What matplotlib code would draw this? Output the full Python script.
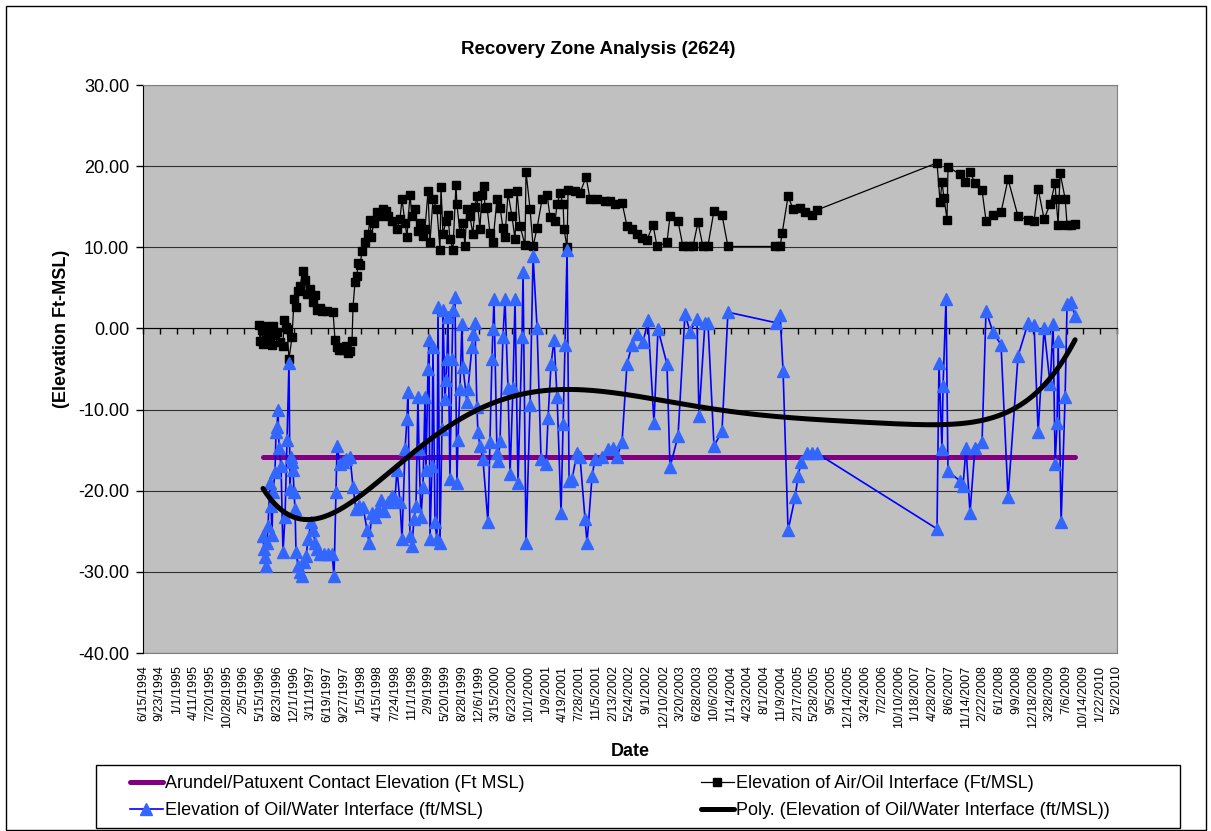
import matplotlib
matplotlib.use('Agg')
import matplotlib.pyplot as plt
import matplotlib.dates as mdates
from matplotlib.ticker import FormatStrFormatter
import numpy as np
from datetime import datetime, timedelta

plt.rcParams['font.family'] = ['Liberation Sans', 'DejaVu Sans']
plt.rcParams['axes.unicode_minus'] = False

# Fechas en años decimales
fechas_aire_aceite = [
    1996.343, 1996.359, 1996.392, 1996.408, 1996.441, 1996.457, 1996.490, 1996.522, 1996.555, 1996.571,
    1996.604, 1996.636, 1996.685, 1996.734, 1996.751, 1996.783, 1996.800, 1996.832, 1996.881, 1996.914,
    1996.946, 1996.979, 1997.012, 1997.060, 1997.093, 1997.126, 1997.175, 1997.223, 1997.256, 1997.289,
    1997.338, 1997.370, 1997.452, 1997.550, 1997.582, 1997.615, 1997.647, 1997.713, 1997.762, 1997.794,
    1997.827, 1997.859, 1997.876, 1997.908, 1997.941, 1997.957, 1997.990, 1998.022, 1998.071, 1998.120,
    1998.153, 1998.169, 1998.218, 1998.267, 1998.316, 1998.365, 1998.414, 1998.446, 1998.512, 1998.593,
    1998.642, 1998.675, 1998.724, 1998.756, 1998.805, 1998.838, 1998.887, 1998.935, 1998.968, 1999.017,
    1999.050, 1999.099, 1999.131, 1999.180, 1999.245, 1999.294, 1999.311, 1999.343, 1999.392, 1999.425,
    1999.457, 1999.506, 1999.555, 1999.571, 1999.620, 1999.669, 1999.702, 1999.734, 1999.783, 1999.832,
    1999.865, 1999.897, 1999.946, 1999.979, 2000.012, 2000.028, 2000.061, 2000.109, 2000.158, 2000.224,
    2000.273, 2000.321, 2000.354, 2000.403, 2000.468, 2000.517, 2000.550, 2000.599, 2000.680, 2000.696,
    2000.762, 2000.811, 2000.876, 2000.957, 2001.039, 2001.088, 2001.169, 2001.202, 2001.251, 2001.300,
    2001.316, 2001.365, 2001.381, 2001.495, 2001.577, 2001.675, 2001.740, 2001.854, 2001.985, 2002.066,
    2002.148, 2002.262, 2002.343, 2002.425, 2002.506, 2002.588, 2002.669, 2002.767, 2002.832, 2002.995,
    2003.044, 2003.175, 2003.256, 2003.338, 2003.419, 2003.501, 2003.582, 2003.664, 2003.762, 2003.892,
    2003.990, 2004.756, 2004.838, 2004.871, 2004.968, 2005.050, 2005.164, 2005.246, 2005.360, 2005.441,
    2007.398, 2007.447, 2007.479, 2007.512, 2007.561, 2007.577, 2007.773, 2007.854, 2007.936, 2008.017,
    2008.132, 2008.197, 2008.311, 2008.441, 2008.555, 2008.718, 2008.882, 2008.979, 2009.045, 2009.142,
    2009.240, 2009.322, 2009.338, 2009.371, 2009.403, 2009.485, 2009.517, 2009.583, 2009.648,
]
valores_aire_aceite = [
    0.4, -1.5, -0.2, -1.9, 0.3, -1.4, -0.3, -1.0, -2.0, 0.3,
    -0.8, -0.5, -1.7, -2.2, 1.1, 0.2, -0.1, -3.8, -1.0, 3.6,
    2.6, 4.6, 5.2, 7.1, 6.0, 4.3, 4.8, 3.3, 4.1, 2.3,
    2.5, 2.1, 2.1, 2.0, -1.4, -2.3, -2.6, -2.6, -2.2, -3.0,
    -2.8, -1.6, 2.7, 5.7, 6.5, 8.1, 7.8, 9.5, 10.6, 11.6,
    13.4, 11.3, 13.0, 14.4, 13.8, 14.7, 14.5, 13.8, 13.2, 12.2,
    13.5, 15.9, 13.0, 11.3, 16.5, 13.8, 14.7, 12.0, 13.0, 11.4,
    12.2, 16.9, 10.6, 15.9, 14.7, 9.7, 17.4, 11.6, 13.2, 14.0,
    11.0, 9.7, 17.7, 15.3, 11.8, 13.0, 10.2, 14.7, 13.8, 11.6,
    15.0, 16.3, 12.3, 16.5, 17.5, 14.9, 15.0, 11.8, 10.7, 15.9,
    14.9, 12.4, 11.3, 16.7, 13.8, 11.0, 16.9, 12.6, 10.3, 19.3,
    14.7, 10.1, 12.4, 15.9, 16.5, 13.7, 13.2, 15.3, 16.7, 15.3,
    12.2, 10.0, 17.1, 16.9, 16.7, 18.7, 15.9, 15.9, 15.7, 15.7,
    15.3, 15.5, 12.6, 12.2, 11.6, 11.2, 10.9, 12.8, 10.1, 10.6,
    13.8, 13.2, 10.1, 10.1, 10.1, 13.1, 10.1, 10.2, 14.5, 14.0,
    10.1, 10.1, 10.1, 11.7, 16.3, 14.7, 14.8, 14.4, 14.0, 14.6,
    20.4, 15.6, 18.0, 16.1, 13.4, 19.9, 19.0, 18.1, 19.3, 17.9,
    17.0, 13.3, 14.0, 14.3, 18.4, 13.8, 13.4, 13.3, 17.2, 13.5,
    15.3, 17.9, 15.9, 12.8, 19.2, 16.0, 12.8, 12.8, 12.9,
]

fechas_aceite_agua = [
    1996.408, 1996.425, 1996.441, 1996.457, 1996.473, 1996.490, 1996.522, 1996.539, 1996.555, 1996.571,
    1996.604, 1996.620, 1996.636, 1996.653, 1996.669, 1996.702, 1996.734, 1996.767, 1996.800, 1996.832,
    1996.848, 1996.865, 1996.881, 1996.897, 1996.914, 1996.930, 1996.946, 1996.979, 1997.012, 1997.044,
    1997.077, 1997.109, 1997.142, 1997.191, 1997.223, 1997.256, 1997.289, 1997.338, 1997.403, 1997.468,
    1997.533, 1997.566, 1997.598, 1997.615, 1997.664, 1997.713, 1997.762, 1997.827, 1997.876, 1997.925,
    1997.973, 1998.039, 1998.104, 1998.137, 1998.185, 1998.234, 1998.283, 1998.332, 1998.381, 1998.446,
    1998.512, 1998.560, 1998.593, 1998.642, 1998.675, 1998.724, 1998.756, 1998.772, 1998.805, 1998.838,
    1998.870, 1998.903, 1998.935, 1998.952, 1998.984, 1999.017, 1999.050, 1999.066, 1999.099, 1999.115,
    1999.131, 1999.164, 1999.180, 1999.213, 1999.245, 1999.262, 1999.294, 1999.327, 1999.343, 1999.376,
    1999.392, 1999.408, 1999.425, 1999.457, 1999.490, 1999.506, 1999.539, 1999.571, 1999.588, 1999.620,
    1999.653, 1999.669, 1999.734, 1999.751, 1999.816, 1999.832, 1999.865, 1999.897, 1999.914, 1999.946,
    1999.995, 2000.077, 2000.109, 2000.142, 2000.158, 2000.175, 2000.224, 2000.240, 2000.273, 2000.321,
    2000.354, 2000.403, 2000.436, 2000.484, 2000.517, 2000.566, 2000.631, 2000.648, 2000.696, 2000.762,
    2000.811, 2000.876, 2000.941, 2001.023, 2001.055, 2001.104, 2001.153, 2001.202, 2001.267, 2001.300,
    2001.332, 2001.365, 2001.398, 2001.446, 2001.528, 2001.577, 2001.658, 2001.691, 2001.773, 2001.821,
    2001.936, 2002.033, 2002.115, 2002.180, 2002.262, 2002.343, 2002.425, 2002.506, 2002.604, 2002.686,
    2002.783, 2002.849, 2002.995, 2003.044, 2003.175, 2003.289, 2003.370, 2003.485, 2003.517, 2003.615,
    2003.664, 2003.762, 2003.892, 2003.990, 2004.773, 2004.838, 2004.887, 2004.968, 2005.082, 2005.131,
    2005.180, 2005.278, 2005.360, 2005.441, 2007.398, 2007.430, 2007.479, 2007.496, 2007.545, 2007.577,
    2007.773, 2007.822, 2007.871, 2007.936, 2008.017, 2008.132, 2008.197, 2008.311, 2008.441, 2008.555,
    2008.718, 2008.882, 2008.979, 2009.045, 2009.142, 2009.240, 2009.289, 2009.322, 2009.354, 2009.371,
    2009.420, 2009.485, 2009.517, 2009.583, 2009.648,
]
valores_aceite_agua = [
    -25.6, -27.2, -28.2, -29.3, -26.4, -24.4, -19.0, -21.9, -25.4, -20.1,
    -17.7, -12.8, -12.1, -10.0, -14.7, -17.0, -27.6, -23.2, -13.7, -4.2,
    -19.8, -15.8, -16.5, -17.4, -20.2, -22.3, -27.5, -29.3, -30.0, -30.5,
    -28.8, -28.1, -26.0, -23.9, -24.8, -26.4, -27.2, -27.8, -27.8, -27.8,
    -27.8, -30.5, -20.2, -14.5, -16.7, -16.5, -16.1, -15.8, -19.6, -22.3,
    -21.9, -22.0, -24.8, -26.4, -22.7, -23.3, -22.3, -21.1, -22.5, -21.4,
    -20.7, -21.0, -17.4, -21.4, -26.0, -14.9, -11.2, -7.8, -25.6, -26.8,
    -23.5, -21.9, -8.4, -14.9, -23.3, -19.5, -8.5, -17.4, -5.0, -1.4,
    -26.0, -17.0, -2.3, -23.9, -26.0, 2.6, -26.4, -12.4, 2.3, -8.7,
    -6.3, -3.8, 1.4, -18.6, -3.8, 2.3, 3.9, -19.0, -13.7, -7.5,
    0.5, -4.7, -9.1, -7.5, -2.3, -0.7, 0.7, -9.7, -12.8, -14.5,
    -16.1, -23.9, -14.0, -3.8, -0.1, 3.6, -15.3, -16.3, -13.9, -1.0,
    3.6, -7.3, -18.0, -7.3, 3.6, -19.0, -1.0, 7.0, -26.4, -9.4,
    8.9, 0.1, -16.1, -16.7, -11.0, -4.4, -1.4, -8.4, -22.7, -11.8,
    -2.0, 9.7, -18.8, -18.6, -15.3, -15.9, -23.5, -26.4, -18.2, -16.1,
    -15.9, -14.9, -14.7, -15.8, -14.0, -4.4, -2.0, -0.7, -1.7, 1.0,
    -11.6, -0.1, -4.4, -17.1, -13.3, 1.8, -0.4, 1.2, -10.8, 0.7,
    0.7, -14.5, -12.7, 2.0, 0.7, 1.7, -5.3, -24.9, -20.8, -18.2,
    -16.5, -15.4, -15.3, -15.4, -24.7, -4.2, -14.9, -7.1, 3.6, -17.6,
    -18.8, -19.4, -14.7, -22.7, -14.7, -14.0, 2.2, -0.5, -2.0, -20.8,
    -3.4, 0.7, 0.4, -12.8, 0.0, -6.9, 0.5, -16.7, -11.6, -1.6,
    -23.9, -8.4, 3.0, 3.3, 1.5,
]

contacto_elevacion = -15.8


def anio_a_num(a):
    y = int(a)
    inicio = datetime(y, 1, 1)
    largo = (datetime(y + 1, 1, 1) - inicio).days
    return mdates.date2num(inicio + timedelta(days=(a - y) * largo))


x_aire = np.array([anio_a_num(a) for a in fechas_aire_aceite])
x_agua = np.array([anio_a_num(a) for a in fechas_aceite_agua])
y_aire = np.array(valores_aire_aceite)
y_agua = np.array(valores_aceite_agua)

# Linea de tendencia polinomica (como Excel)
xm = x_agua.mean()
xs = x_agua.std()
coef = np.polyfit((x_agua - xm) / xs, y_agua, 6)
x_tend = np.linspace(x_agua.min(), x_agua.max(), 400)
y_tend = np.polyval(coef, (x_tend - xm) / xs)

# Ejes de fecha cada 100 dias
inicio_eje = datetime(1994, 6, 15)
fechas_ticks = [inicio_eje + timedelta(days=100 * i) for i in range(59)]
ticks = [mdates.date2num(d) for d in fechas_ticks]
etiquetas = [f"{d.month}/{d.day}/{d.year}" for d in fechas_ticks]

W, H = 1211, 831
fig = plt.figure(figsize=(W / 100, H / 100), dpi=100)
ax = fig.add_axes([143 / W, 1 - 653 / H, (1117 - 143) / W, (653 - 85) / H])
ax.set_facecolor('#C0C0C0')

l_contacto, = ax.plot([x_agua.min(), x_agua.max()], [contacto_elevacion, contacto_elevacion],
                      color='#800080', lw=3.6, solid_capstyle='round', zorder=2)
l_aire, = ax.plot(x_aire, y_aire, color='black', lw=0.9, marker='s', ms=6.3,
                  mfc='black', mec='black', zorder=3)
l_agua, = ax.plot(x_agua, y_agua, color='#0000FF', lw=1.2, marker='^', ms=8,
                  mfc='#3366FF', mec='#3366FF', zorder=4)
l_tend, = ax.plot(x_tend, y_tend, color='black', lw=3.6, solid_capstyle='round', zorder=5)

ax.set_xlim(ticks[0], ticks[-1])
ax.set_ylim(-40, 30)
ax.set_yticks(range(-40, 31, 10))
ax.yaxis.set_major_formatter(FormatStrFormatter('%.2f'))
ax.tick_params(axis='y', direction='out', length=5, labelsize=13, pad=5, width=1)
ax.yaxis.grid(True, color='#303030', lw=0.8)
ax.set_axisbelow(True)

# eje x cruzando en 0, etiquetas abajo
ax.spines['bottom'].set_position(('data', 0))
ax.spines['bottom'].set_color('black')
ax.set_xticks(ticks)
ax.tick_params(axis='x', direction='out', length=4, labelbottom=False, width=1)
for lado in ['top', 'right']:
    ax.spines[lado].set_color('#808080')
ax.spines['left'].set_color('black')

sec = ax.secondary_xaxis('bottom')
sec.set_xticks(ticks)
sec.set_xticklabels(etiquetas, rotation=90, fontsize=9, va='top', ha='center')
sec.tick_params(length=0, pad=9)
sec.spines['bottom'].set_color('#808080')

fig.text(598 / W, 1 - 49 / H, 'Recovery Zone Analysis (2624)', fontsize=13.5,
         fontweight='bold', ha='center', va='center')
fig.text(62 / W, 1 - 329 / H, '(Elevation Ft-MSL)', fontsize=13, fontweight='bold',
         rotation=90, ha='center', va='center')
fig.text(630 / W, 1 - 752 / H, 'Date', fontsize=13, fontweight='bold', ha='center', va='center')

# leyenda sin marco, el marco se dibuja aparte
leg = fig.legend([l_contacto, l_agua, l_aire, l_tend],
                 ['Arundel/Patuxent Contact Elevation (Ft MSL)',
                  'Elevation of Oil/Water Interface (ft/MSL)',
                  'Elevation of Air/Oil Interface (Ft/MSL)',
                  'Poly. (Elevation of Oil/Water Interface (ft/MSL))'],
                 loc='upper left', bbox_to_anchor=(130 / W, 1 - 775 / H),
                 ncol=2, fontsize=13, frameon=False,
                 handlelength=1.8, handletextpad=0.12, columnspacing=9.8,
                 labelspacing=0.55, borderaxespad=0, borderpad=0, numpoints=1)

marco_leyenda = plt.Rectangle((96 / W, 1 - 828 / H), (1180 - 96) / W, (828 - 765) / H,
                              transform=fig.transFigure, fill=False, edgecolor='black', lw=1)
fig.add_artist(marco_leyenda)

# borde del area del grafico
borde = plt.Rectangle((6 / W, 1 / H), (1206 - 6) / W, (825 - 1) / H, transform=fig.transFigure,
                      fill=False, edgecolor='black', lw=1)
fig.add_artist(borde)

fig.savefig('out.png', dpi=100)
